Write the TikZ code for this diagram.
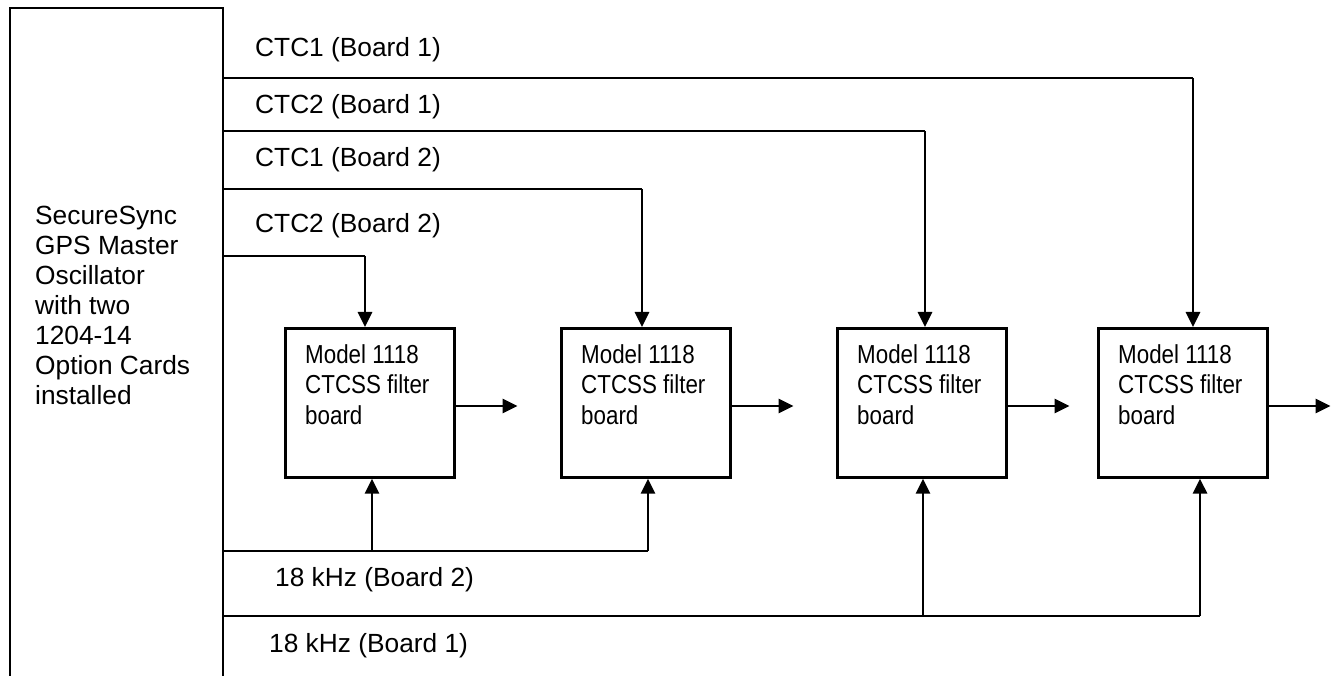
\documentclass[tikz,border=0pt]{standalone}
\usepackage{fontspec}
\setmainfont{Liberation Sans}
\newfontfamily\narrowfont[FakeStretch=0.86]{Liberation Sans}
\usetikzlibrary{arrows.meta,calc}
\begin{document}
\begin{tikzpicture}[x=1pt,y=-1pt,
  wire/.style={line width=2.1pt},
  feed/.style={line width=2.8pt,-{Triangle[length=15pt,width=14pt]}},
  board/.style={draw,line width=2.6pt,minimum width=169pt,minimum height=149pt,inner sep=0pt,anchor=north west},
  btext/.style={anchor=base west,inner sep=0pt,align=left,font=\narrowfont\fontsize{26}{30.5}\selectfont},
  lbl/.style={anchor=base west,inner sep=0pt,font=\fontsize{26.3}{30}\selectfont}]
\useasboundingbox (0,0) rectangle (1333,676);
% source unit
\draw[line width=2.6pt] (10,676) -- (10,8) -- (223,8) -- (223,676);
\node[lbl,align=left] (srctext) at (35,404) {SecureSync\\GPS Master\\Oscillator\\with two\\1204-14\\Option Cards\\installed};
\coordinate (s1) at (223,78);
\coordinate (s2) at (223,131);
\coordinate (s3) at (223,189);
\coordinate (s4) at (223,256);
\coordinate (s5) at (223,551);
\coordinate (s6) at (223,616);
% boards
\node[board] (b1) at (284,327) {};
\node[board] (b2) at (560,327) {};
\node[board] (b3) at (836,327) {};
\node[board] (b4) at (1097,327) {};
\foreach \b in {b1,b2,b3,b4}{
  \node[btext] (\b t) at ($(\b.north west)+(21,97)$) {Model 1118\\CTCSS filter\\board};
}
% outputs
\foreach \b in {b1,b2,b3,b4}{
  \coordinate (\b o) at ($(\b.north east)+(62,79)$);
  \draw[feed] (\b.north east |- \b o) -- (\b o);
}
% CTC lines
\draw[wire] (s1) -- (1193,78);
\draw[feed] (1193,78) -- ([xshift=96pt]b4.north west);
\draw[wire] (s2) -- (925,131);
\draw[feed] (925,131) -- ([xshift=89pt]b3.north west);
\draw[wire] (s3) -- (642,189);
\draw[feed] (642,189) -- ([xshift=82pt]b2.north west);
\draw[wire] (s4) -- (365,256);
\draw[feed] (365,256) -- ([xshift=81pt]b1.north west);
% 18 kHz lines
\draw[wire] (s5) -- (648,551);
\draw[feed] (372,551) -- ([xshift=88pt]b1.south west);
\draw[feed] (648,551) -- ([xshift=88pt]b2.south west);
\draw[wire] (s6) -- (1200,616);
\draw[feed] (923,616) -- ([xshift=87pt]b3.south west);
\draw[feed] (1200,616) -- ([xshift=103pt]b4.south west);
% labels
\node[lbl] (l1) at (255,57) {CTC1 (Board 1)};
\node[lbl] (l2) at (255,114) {CTC2 (Board 1)};
\node[lbl] (l3) at (255,167) {CTC1 (Board 2)};
\node[lbl] (l4) at (255,233) {CTC2 (Board 2)};
\node[lbl] (l5) at (275,586) {18 kHz (Board 2)};
\node[lbl] (l6) at (269,652) {18 kHz (Board 1)};
\end{tikzpicture}
\end{document}
